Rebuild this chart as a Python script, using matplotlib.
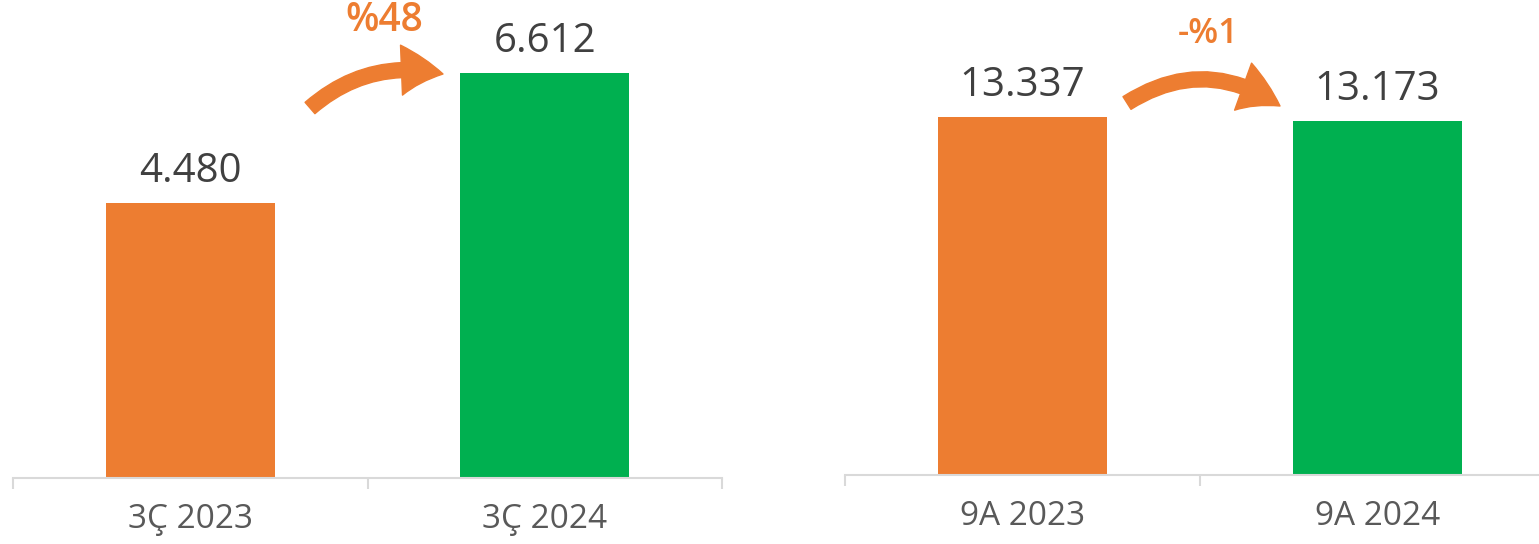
import matplotlib.pyplot as plt
from matplotlib.patches import FancyArrowPatch

plt.rcParams["font.family"] = ["Open Sans", "DejaVu Sans"]

# data
left_cats = ["3Ç 2023", "3Ç 2024"]
left_vals = [4480, 6612]
left_labels = ["4.480", "6.612"]
left_change = "%48"

right_cats = ["9A 2023", "9A 2024"]
right_vals = [13337, 13173]
right_labels = ["13.337", "13.173"]
right_change = "-%1"

colors = ["#ED7D31", "#00B050"]
W, H = 1539, 544

fig = plt.figure(figsize=(W / 100, H / 100), dpi=100)


def px_axes(x0, x1, base):
    # axes rectangle from pixel positions (top of axes at top of figure)
    return fig.add_axes([x0 / W, (H - base) / H, (x1 - x0) / W, base / H])


def draw_panel(ax, cats, vals, labels, ymax):
    ax.bar(range(len(cats)), vals, width=0.476, color=colors)
    ax.set_xlim(-0.5, 1.5)
    ax.set_ylim(0, ymax)
    for i, (v, lab) in enumerate(zip(vals, labels)):
        ax.annotate(lab, (i, v), xytext=(0, 8), textcoords="offset points",
                    ha="center", va="bottom", fontsize=29, color="#404040")
    for s in ["top", "right", "left"]:
        ax.spines[s].set_visible(False)
    ax.spines["bottom"].set_color("#D9D9D9")
    ax.spines["bottom"].set_linewidth(1.5)
    ax.set_yticks([])
    ax.set_xticks([0, 1])
    ax.set_xticklabels(cats, fontsize=24, color="#595959")
    ax.tick_params(axis="x", which="major", length=0, pad=18)
    ax.set_xticks([-0.5, 0.5, 1.5], minor=True)
    ax.tick_params(axis="x", which="minor", length=8, width=1.5, color="#D9D9D9")


ax1 = px_axes(13, 722, 478)
draw_panel(ax1, left_cats, left_vals, left_labels, 7800)

ax2 = px_axes(845, 1555, 475)
draw_panel(ax2, right_cats, right_vals, right_labels, 17700)


def fpix(x, y):
    return (x / W, (H - y) / H)


def change_arrow(p0, p1, rad, txt, txt_pos, size):
    arr = FancyArrowPatch(fpix(*p0), fpix(*p1), transform=fig.transFigure,
                          connectionstyle=f"arc3,rad={rad}",
                          arrowstyle="simple,head_width=1.2,head_length=1.0,tail_width=0.36",
                          mutation_scale=30, color="#ED7D31",
                          shrinkA=0, shrinkB=0)
    fig.add_artist(arr)
    fig.text(*fpix(*txt_pos), txt, ha="center", va="center", fontsize=size,
             color="#ED7D31", fontweight="semibold")


change_arrow((310, 108), (443, 74), -0.25, left_change, (384, 21), 28)
change_arrow((1127, 103), (1280, 106), -0.33, right_change, (1208, 34), 25)

fig.savefig("out.png", dpi=100)
